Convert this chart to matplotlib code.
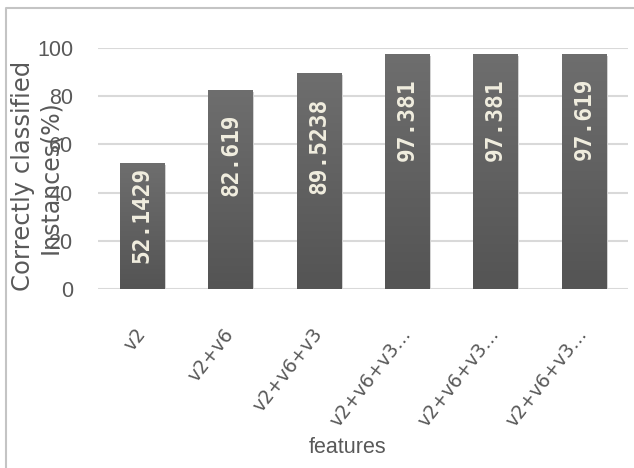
import numpy as np
import matplotlib
matplotlib.use("Agg")
import matplotlib.pyplot as plt
from matplotlib.lines import Line2D

# accuracy per feature set
features = ["v2", "v2+v6", "v2+v6+v3", "v2+v6+v3…", "v2+v6+v3…", "v2+v6+v3…"]
accuracy = [52.1429, 82.619, 89.5238, 97.381, 97.381, 97.619]
value_text = ["52.1429", "82.619", "89.5238", "97.381", "97.381", "97.619"]
yticks = [0, 20, 40, 60, 80, 100]

grey_txt = "#595959"
narrow = ["Liberation Sans", "DejaVu Sans"]

fig = plt.figure(figsize=(6.34, 4.68), dpi=100)
ax = fig.add_axes([0.1546, 0.3825, 0.8359, 0.5149])

x = np.arange(len(features))
# soft shadow under each bar
ax.bar(x + 0.02, accuracy, width=0.5, bottom=-0.8, color="#d2d2d2", zorder=2)
bars = ax.bar(x, accuracy, width=0.5, color="#5e5e5e", zorder=3)

# vertical gradient inside the bars, lighter at the top
grad = np.linspace(0, 1, 256).reshape(-1, 1)
cmap = matplotlib.colors.LinearSegmentedColormap.from_list("g", ["#545454", "#6e6e6e"])
for b in bars:
    x0, w, h = b.get_x(), b.get_width(), b.get_height()
    im = ax.imshow(grad, cmap=cmap, aspect="auto", origin="lower",
                   extent=(x0, x0 + w, 0, h), zorder=4)
    im.set_clip_path(b)

for xi, v, s in zip(x, accuracy, value_text):
    top = v - 10 if v > 60 else v - 1.5
    ax.text(xi, top, s, rotation=90, ha="center", va="top",
            color="#f1eedf", fontsize=16.5, fontweight="bold",
            family="DejaVu Sans Mono", zorder=6)

ax.set_xlim(-0.5, len(features) - 0.5)
ax.set_ylim(0, 100)
ax.set_yticks(yticks)
ax.set_yticklabels([str(t) for t in yticks], family=narrow, fontsize=15.5, color=grey_txt)
ax.yaxis.grid(True, color="#d9d9d9", linewidth=1.5, zorder=0)
ax.set_axisbelow(True)
ax.tick_params(axis="y", length=0, pad=18)
ax.tick_params(axis="x", length=0, pad=30)
ax.set_xticks(x)
ax.set_xticklabels(features, rotation=52, ha="right", va="center",
                   rotation_mode="anchor", family="DejaVu Sans", fontsize=13.5, color=grey_txt)
for sp in ax.spines.values():
    sp.set_visible(False)

ax.set_xlabel("features", family=narrow, fontsize=15.5, color=grey_txt)
ax.xaxis.set_label_coords(0.47, -0.615)

fig.text(0.036, 0.624, "Correctly classified", rotation=90,
         ha="center", va="center", fontsize=17.5, color=grey_txt)
fig.text(0.079, 0.622, "Instances(%)", rotation=90,
         ha="center", va="center", fontsize=17, color=grey_txt)

# chart frame (top and left edges)
fig.add_artist(Line2D([0.0095, 0.0095, 1.0], [0.0, 0.983, 0.983],
                      transform=fig.transFigure, color="#c4c4c4", linewidth=1.5))

fig.savefig("out.png", dpi=100, facecolor="white")
